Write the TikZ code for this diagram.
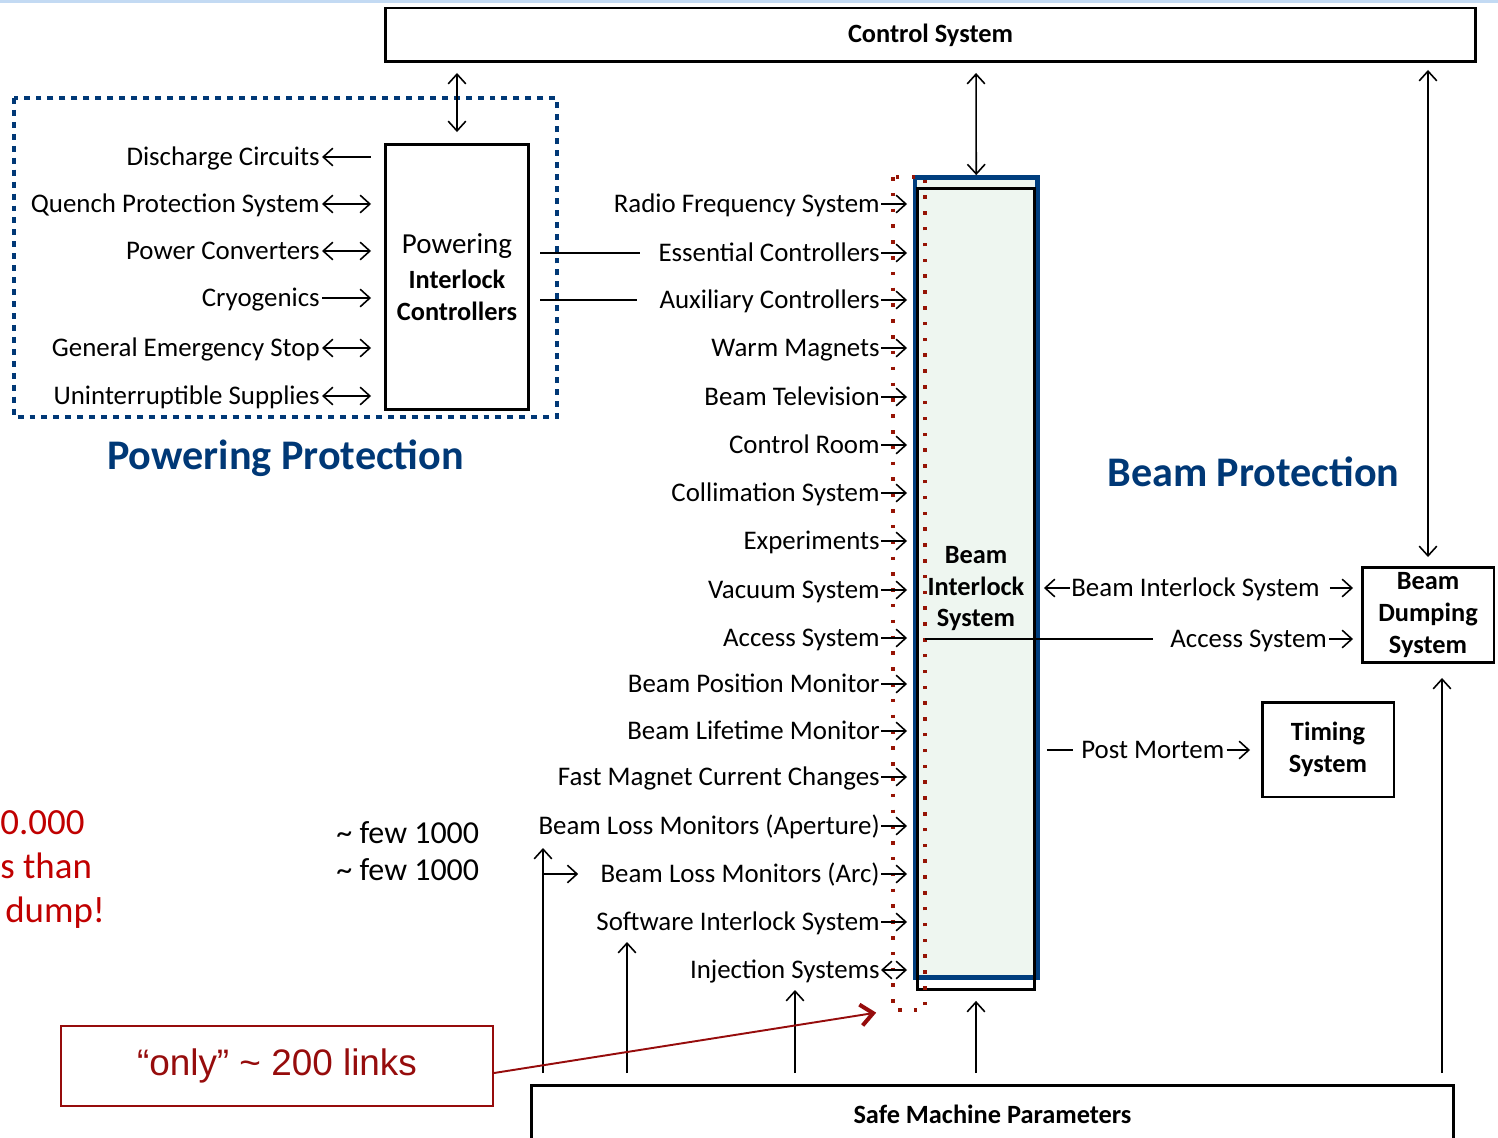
\documentclass[tikz,border=0pt]{standalone}
\usepackage{fontspec}
\setmainfont{Carlito}
\newfontfamily\arialfont{Liberation Sans}
\usetikzlibrary{arrows.meta,calc}

\definecolor{ppblue}{RGB}{0,56,118}
\definecolor{bisblue}{RGB}{0,62,126}
\definecolor{bisfill}{RGB}{238,246,240}
\definecolor{dotred}{RGB}{150,20,5}
\definecolor{notered}{RGB}{192,0,0}
\definecolor{linkred}{RGB}{150,12,12}
\definecolor{topline}{RGB}{195,218,243}

\tikzset{
  lbl/.style={inner sep=0pt, text height=12pt, text depth=2pt, font=\fontsize{15.3}{18}\selectfont},
  sysbox/.style={draw, line width=1.7pt, align=center, inner sep=0pt, font=\fontsize{15}{18}\selectfont\bfseries},
  barb/.tip={Straight Barb[length=5.5pt,width=10pt]},
  arr/.style={-barb, line width=0.9pt},
  darr/.style={barb-barb, line width=0.9pt},
  larr/.style={barb-, line width=0.9pt},
  plainline/.style={line width=0.9pt},
  headline/.style={text=ppblue, font=\fontsize{24}{28}\selectfont\bfseries, anchor=base, inner sep=0pt},
  rednote/.style={text=notered, font=\fontsize{21}{25}\selectfont, anchor=base west, inner sep=0pt},
  reddots/.style={dotred, line width=2pt, dash pattern=on 2pt off 7pt},
}

\begin{document}
\begin{tikzpicture}[x=0.02cm, y=-0.02cm]
\useasboundingbox (0,0) rectangle (1498,1138);
\fill[topline] (0,0) rectangle (1498,3);

\draw[ppblue, line width=2.8pt, dash pattern=on 3.4pt off 3.4pt] (14,98) rectangle (557,417);

\node[sysbox, minimum width=21.82cm, minimum height=1.08cm] (cs) at (930.5,35) {Control System};
\node[sysbox, minimum width=18.46cm, minimum height=1.16cm] (smp) at (992.5,1114) {Safe Machine Parameters};
\node[sysbox, minimum width=2.88cm, minimum height=5.32cm, font=\fontsize{15}{18}\selectfont] (pic) at (457,277) {{\fontsize{16.5}{18}\selectfont Powering}\\[2pt]\textbf{Interlock}\\\textbf{Controllers}};

\node[draw=bisblue, line width=2.8pt, fill=bisfill, inner sep=0pt, minimum width=2.45cm, minimum height=16cm] (bisframe) at (976.25,577.5) {};
\node[sysbox, minimum width=2.34cm, minimum height=16.03cm] (bis) at (976,588.75) {Beam\\Interlock\\System};
\draw[reddots] (893,177) rectangle (925,1010);
\coordinate (rdsw) at (893,1010);

\node[sysbox, minimum width=2.64cm, minimum height=1.92cm] (bds) at (1428,615) {Beam\\Dumping\\System};
\node[sysbox, minimum width=2.64cm, minimum height=1.9cm] (tim) at (1328,749.5) {Timing\\System};

\foreach \nm/\txt/\yy in {dc/Discharge Circuits/157, qps/Quench Protection System/204, pc/Power Converters/251, cryo/Cryogenics/298, ges/General Emergency Stop/348, ups/Uninterruptible Supplies/396}
  \node[lbl, anchor=east] (\nm) at (320,\yy) {\txt};
\draw[larr, shorten <=0.04cm, shorten >=0.25cm] (dc.east) -- (dc.east -| pic.west);
\foreach \nm in {qps,pc,ges,ups}
  \draw[darr, shorten <=0.04cm, shorten >=0.25cm] (\nm.east) -- (\nm.east -| pic.west);
\draw[arr, shorten <=0.04cm, shorten >=0.25cm] (cryo.east) -- (cryo.east -| pic.west);

\foreach \nm/\txt/\yy in {rfs/Radio Frequency System/204, ec/Essential Controllers/253, ac/Auxiliary Controllers/300, wm/Warm Magnets/348, btv/Beam Television/397, cr/Control Room/445, coll/Collimation System/493, expt/Experiments/541, vac/Vacuum System/590, acc/Access System/638, bpm/Beam Position Monitor/684, blt/Beam Lifetime Monitor/731, fmcc/Fast Magnet Current Changes/777, blmap/Beam Loss Monitors (Aperture)/826, blmarc/Beam Loss Monitors (Arc)/874, sis/Software Interlock System/922, inj/Injection Systems/970}
  \node[lbl, anchor=east] (\nm) at (880,\yy) {\txt};
\foreach \nm in {rfs,ec,ac,wm,btv,cr,coll,expt,vac,acc,bpm,blt,fmcc,blmap,blmarc,sis}
  \draw[arr, shorten <=0.02cm, shorten >=0.18cm] (\nm.east) -- (\nm.east -| bis.west);
\draw[darr, shorten <=0.02cm, shorten >=0.18cm] (inj.east) -- (inj.east -| bis.west);

\draw[plainline] ($(ec.west -| pic.east)+(10,0)$) -- ($(ec.west)+(-18,0)$);
\draw[plainline] ($(ac.west -| pic.east)+(10,0)$) -- ($(ac.west)+(-22,0)$);

\node[lbl, anchor=west] (bisr) at (1071,588) {Beam Interlock System};
\node[lbl, anchor=west] (accr) at (1170,639) {Access System};
\node[lbl, anchor=west] (pm) at (1081,750) {Post Mortem};
\draw[arr, shorten <=0.02cm, shorten >=0.08cm] (bisr.west) -- (bisr.west -| bisframe.east);
\draw[arr, shorten <=0.2cm, shorten >=0.15cm] (bisr.east) -- (bisr.east -| bds.west);
\draw[plainline] ($(accr.west -| bis.west)+(9,0)$) -- ($(accr.west)+(-17,0)$);
\draw[arr, shorten <=0.04cm, shorten >=0.15cm] (accr.east) -- (accr.east -| bds.west);
\draw[plainline] ($(pm.west -| bisframe.east)+(7,0)$) -- ($(pm.west)+(-8,0)$);
\draw[arr, shorten <=0.04cm, shorten >=0.21cm] (pm.east) -- (pm.east -| tim.west);

\draw[darr, shorten <=0.19cm, shorten >=0.21cm] (cs.south -| pic.north) -- (pic.north);
\draw[darr, shorten <=0.19cm] (cs.south -| bis.north) -- (bisframe.north);
\draw[darr, shorten <=0.13cm, shorten >=0.17cm] (cs.south -| bds.north) -- (bds.north);

\coordinate (bdsin) at ($(bds.south)+(14,0)$);
\coordinate (blmup) at (543,848);
\coordinate (sisup) at (627,942);
\coordinate (injup) at (795,990);
\draw[arr, shorten <=0.21cm, shorten >=0.27cm] (smp.north -| bdsin) -- (bdsin);
\draw[arr, shorten <=0.21cm, shorten >=0.2cm] (smp.north -| bis.south) -- (bis.south);
\draw[arr, shorten <=0.21cm] (smp.north -| blmup) -- (blmup);
\draw[arr, shorten <=0.21cm] (smp.north -| sisup) -- (sisup);
\draw[arr, shorten <=0.21cm] (smp.north -| injup) -- (injup);
\draw[arr] (blmarc.west -| blmup) -- ($(blmarc.west)+(-22,0)$);

\node[headline] (pptitle) at (285.5,470) {Powering Protection};
\node[headline] (bptitle) at (1253.5,486) {Beam Protection};

\node[rednote] (note1) at (0,834) {0.000};
\node[rednote] (note2) at (0,878) {s than};
\node[rednote] (note3) at (5,922) {dump!};
\node[lbl, anchor=base west, font=\fontsize{18.2}{21}\selectfont] (few1) at (336,843) {\textasciitilde{} few 1000};
\node[lbl, anchor=base west, font=\fontsize{18.2}{21}\selectfont] (few2) at (336,880) {\textasciitilde{} few 1000};

\node[draw=linkred, line width=1.2pt, minimum width=8.64cm, minimum height=1.6cm, inner sep=0pt, text=linkred, font=\arialfont\fontsize{21}{24}\selectfont] (only) at (277,1066) {“only” \textasciitilde{} 200 links};
\draw[linkred, line width=1.1pt, -{Straight Barb[length=7pt,width=12pt,line width=2.3pt]}, shorten >=0.34cm] ($(only.east)+(0,7)$) -- (rdsw);
\end{tikzpicture}
\end{document}
